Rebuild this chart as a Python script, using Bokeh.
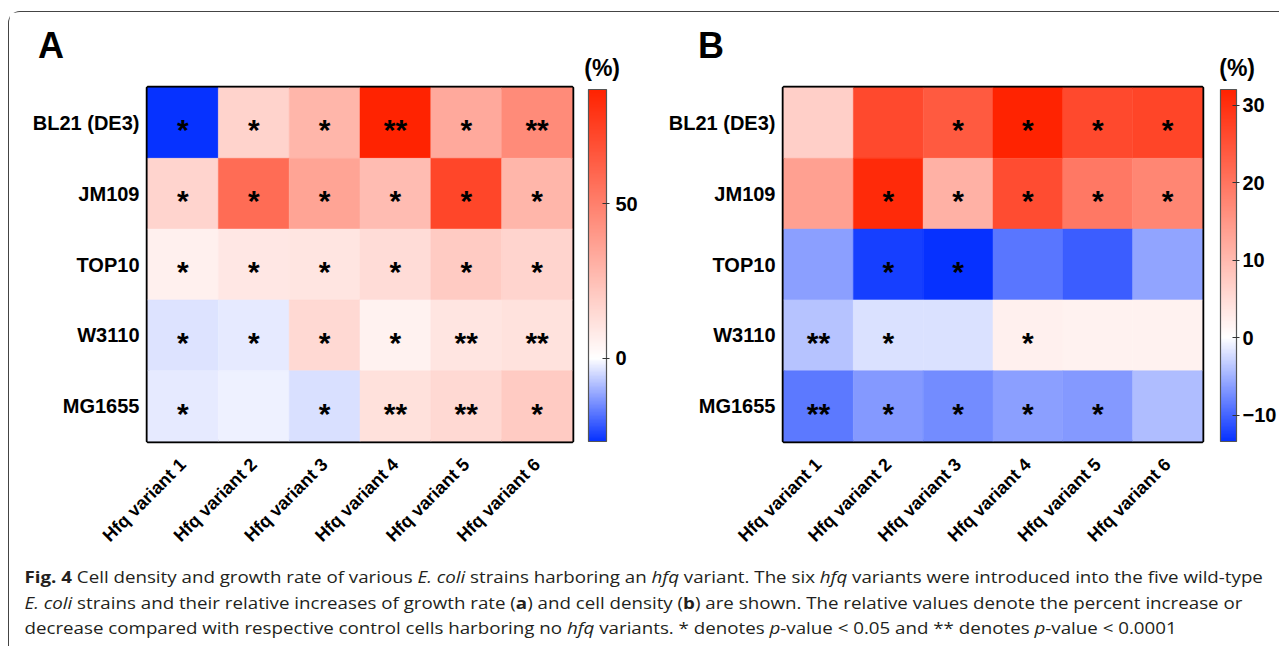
import math
from bokeh.plotting import figure
from bokeh.models import (ColumnDataSource, LinearColorMapper, ColorBar, FixedTicker,
                          Title, FactorRange, Div)
from bokeh.layouts import row, column
from bokeh.embed import file_html
from bokeh.resources import INLINE
from bokeh.core.properties import value

# ---------------- data ----------------
strains = ["BL21 (DE3)", "JM109", "TOP10", "W3110", "MG1655"]
variants = ["Hfq variant 1", "Hfq variant 2", "Hfq variant 3",
            "Hfq variant 4", "Hfq variant 5", "Hfq variant 6"]

# Panel A: relative increase of growth rate (%)
growth_bl21 = [-27.0, 17.4, 29.0, 87.0, 34.0, 46.0]
growth_jm109 = [17.0, 58.0, 36.0, 26.0, 73.0, 29.0]
growth_top10 = [5.8, 9.2, 10.2, 13.6, 20.5, 17.0]
growth_w3110 = [-3.5, -2.9, 15.3, 5.1, 10.2, 11.3]
growth_mg1655 = [-2.9, -2.0, -3.9, 12.0, 15.3, 20.5]

sig_growth_bl21 = ["*", "*", "*", "**", "*", "**"]
sig_growth_jm109 = ["*", "*", "*", "*", "*", "*"]
sig_growth_top10 = ["*", "*", "*", "*", "*", "*"]
sig_growth_w3110 = ["*", "*", "*", "*", "**", "**"]
sig_growth_mg1655 = ["*", "", "*", "**", "**", "*"]

# Panel B: relative increase of cell density (%)
density_bl21 = [6.9, 26.4, 23.9, 32.0, 26.4, 27.0]
density_jm109 = [13.8, 30.8, 11.3, 25.8, 19.5, 17.6]
density_top10 = [-6.3, -12.4, -13.4, -8.9, -10.5, -5.8]
density_w3110 = [-3.9, -1.9, -1.9, 2.1, 1.9, 1.9]
density_mg1655 = [-8.7, -6.6, -7.4, -6.3, -6.6, -4.2]

sig_density_bl21 = ["", "", "*", "*", "*", "*"]
sig_density_jm109 = ["", "*", "*", "*", "*", "*"]
sig_density_top10 = ["", "*", "*", "", "", ""]
sig_density_w3110 = ["**", "*", "", "*", "", ""]
sig_density_mg1655 = ["**", "*", "*", "*", "*", ""]

ticks_a = [0, 50]
ticks_b = [-10, 0, 10, 20, 30]
colorbar_title = "(%)"

caption_html = (
    "<b>Fig. 4</b> Cell density and growth rate of various <i>E. coli</i> strains harboring an "
    "<i>hfq</i> variant. The six <i>hfq</i> variants were introduced into the five wild-type<br>"
    "<i>E. coli</i> strains and their relative increases of growth rate (<b>a</b>) and cell density "
    "(<b>b</b>) are shown. The relative values denote the percent increase or<br>"
    "decrease compared with respective control cells harboring no <i>hfq</i> variants. "
    "* denotes <i>p</i>-value &lt; 0.05 and ** denotes <i>p</i>-value &lt; 0.0001"
)

# ---------------- style ----------------
FONT = "Liberation Sans"
BLUE = (4, 48, 255)
RED = (255, 34, 0)


def diverging_palette(low, high, n=256):
    pal = []
    for i in range(n):
        v = low + (i + 0.5) * (high - low) / n
        if v < 0:
            t, c = v / low, BLUE
        else:
            t, c = v / high, RED
        rgb = tuple(int(round(255 + t * (ci - 255))) for ci in c)
        pal.append("#%02x%02x%02x" % rgb)
    return pal


def make_title(text, size, align, offset, standoff, fallback_standoff):
    kw = dict(text=text, align=align, offset=offset, vertical_align="bottom",
              text_font=FONT, text_font_style="bold", text_font_size=size,
              text_color="black")
    try:
        return Title(standoff=standoff, **kw)
    except Exception:
        return Title(standoff=fallback_standoff, **kw)


def heatmap(rows_vals, rows_sig, ticks, width, height, left, right, top, bottom,
            letter, letter_offset, pct_offset, cb_gap, cb_width, cb_standoff):
    xs, ys, vs, ss = [], [], [], []
    for s, vals, sigs in zip(strains, rows_vals, rows_sig):
        for vn, val, sg in zip(variants, vals, sigs):
            xs.append(vn)
            ys.append(s)
            vs.append(val)
            ss.append(sg)
    src = ColumnDataSource(dict(x=xs, y=ys, v=vs, s=ss))
    low, high = min(vs), max(vs)
    mapper = LinearColorMapper(palette=diverging_palette(low, high), low=low, high=high)

    p = figure(width=width, height=height,
               x_range=FactorRange(*variants), y_range=FactorRange(*reversed(strains)),
               output_backend="svg", toolbar_location=None,
               min_border_left=left, min_border_right=right,
               min_border_top=top, min_border_bottom=bottom)
    p.rect(x="x", y="y", width=1, height=1, source=src,
           fill_color={"field": "v", "transform": mapper},
           line_color={"field": "v", "transform": mapper}, line_width=0.5)
    p.text(x="x", y="y", text="s", source=src, text_align="center", text_baseline="middle",
           text_font=value(FONT), text_font_style="bold", text_font_size="30px",
           text_color="black", y_offset=7)

    p.outline_line_color = "black"
    p.outline_line_width = 3.5
    p.grid.visible = False
    p.background_fill_color = "white"
    p.border_fill_color = "white"
    for ax in (p.xaxis, p.yaxis):
        ax.axis_line_color = None
        ax.major_tick_line_color = None
        ax.minor_tick_line_color = None
        ax.major_tick_out = 0
        ax.major_tick_in = 0
        ax.minor_tick_out = 0
        ax.minor_tick_in = 0
        ax.major_label_text_font = FONT
        ax.major_label_text_font_style = "bold"
        ax.major_label_text_color = "black"
    p.yaxis.major_label_text_font_size = "20px"
    p.xaxis.major_label_text_font_size = "18px"
    p.xaxis.major_label_orientation = math.pi / 4
    p.xaxis.major_label_standoff = 20
    p.yaxis.major_label_standoff = 8

    cb = ColorBar(color_mapper=mapper, ticker=FixedTicker(ticks=ticks),
                  width=cb_width, height=height - top - bottom - 2,
                  location=(cb_gap, 0), margin=0, padding=0,
                  bar_line_color="#555555", bar_line_width=1.2,
                  major_tick_line_color="#333333", major_tick_in=4, major_tick_out=3,
                  minor_tick_line_color=None,
                  major_label_text_font=FONT, major_label_text_font_style="bold",
                  major_label_text_font_size="20px", major_label_text_color="black",
                  label_standoff=cb_standoff)
    p.add_layout(cb, "right")

    # nearest to the frame first: the colour bar unit, then the panel letter above it
    p.add_layout(make_title(colorbar_title, "23px", "right", pct_offset, 14, 14), "above")
    p.add_layout(make_title(letter, "36px", "left", letter_offset, -40, 0), "above")
    return p


fig_a = heatmap([growth_bl21, growth_jm109, growth_top10, growth_w3110, growth_mg1655],
                [sig_growth_bl21, sig_growth_jm109, sig_growth_top10, sig_growth_w3110,
                 sig_growth_mg1655],
                ticks_a, 640, 555, 138, 77, 75, 126, "A", -109.5, -47.5, 16, 18, 6)
fig_b = heatmap([density_bl21, density_jm109, density_top10, density_w3110, density_mg1655],
                [sig_density_bl21, sig_density_jm109, sig_density_top10, sig_density_w3110,
                 sig_density_mg1655],
                ticks_b, 630, 555, 134, 76, 75, 126, "B", -85.5, -52.5, 18, 16, 3)

caption = Div(text=caption_html, width=1080, height=76,
              styles={"font-family": "'Open Sans'", "font-size": "16px",
                      "line-height": "25.5px", "white-space": "nowrap", "color": "#231f20",
                      "padding-left": "9px", "padding-top": "0px", "margin-top": "-2px",
                      "transform": "scaleX(1.17)", "transform-origin": "left top"})

layout = column(row(fig_a, fig_b), caption,
                styles={"border-top": "1.5px solid #444", "border-left": "1.5px solid #444",
                        "border-top-left-radius": "12px", "margin-top": "11px",
                        "margin-left": "8px"})

open("out.html", "w").write(file_html(layout, INLINE))
